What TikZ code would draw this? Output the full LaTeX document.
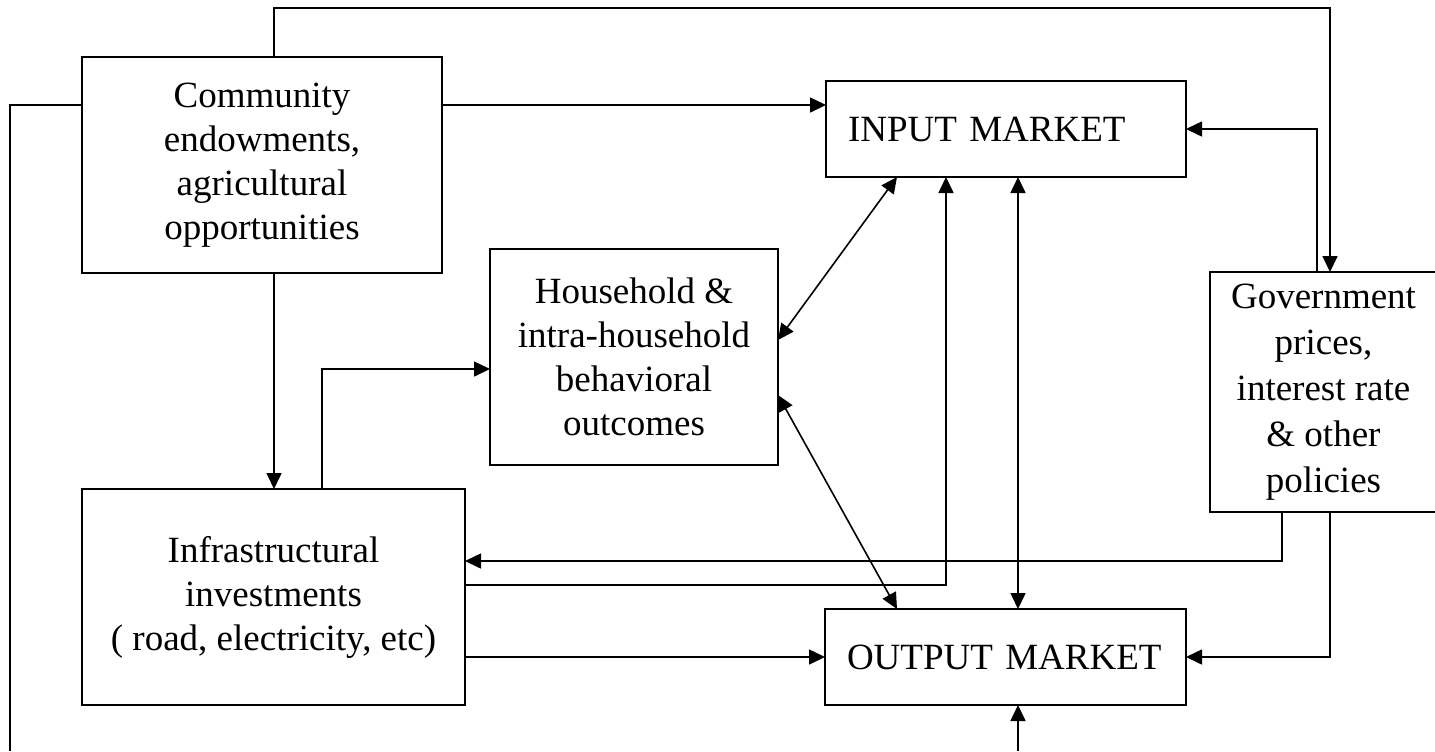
\documentclass[tikz,border=0pt]{standalone}
\usepackage{fontspec}
\setmainfont{Liberation Serif}
\usetikzlibrary{arrows.meta}

\begin{document}
\begin{tikzpicture}[x=0.5pt,y=-0.5pt]
\useasboundingbox (0,0) rectangle (1435,751);

\begin{scope}[every node/.style={rectangle,draw=black,fill=white,line width=0.8pt,inner sep=0pt,outer sep=0pt,align=center,font=\fontsize{18.5}{22}\selectfont}]
    \node (comm) at (262, 165) [minimum width=180pt,minimum height=108pt] {Community\\endowments,\\agricultural\\opportunities};

    \node (input) at (1006, 129) [text width=158pt,inner xsep=11pt,minimum height=48pt,align=left] {INPUT MARKET};
    \node (hh) at (634, 357) [minimum width=144pt,minimum height=108pt] {Household \&\\intra-household\\behavioral\\outcomes};

    \node (infra) at (273.5, 597) [minimum width=191.5pt,minimum height=108pt] {Infrastructural\\investments\\( road, electricity, etc)};
    \node (output) at (1005.5, 657) [text width=158.5pt,inner xsep=11pt,minimum height=48pt,align=left] {OUTPUT MARKET};

    \node (gov) at (1323.5, 392) [minimum width=113.5pt,minimum height=120pt,font=\fontsize{18.5}{23}\selectfont] {Government\\prices,\\ interest rate\\ \& other\\policies};
\end{scope}

\coordinate (leftend) at (10, 751);
\coordinate (bottomend) at (1018, 751);

\begin{scope}[>={Triangle[length=8pt,width=7.5pt]},line width=0.8pt]
    \draw [->] ([xshift=6pt]comm.north) -- ++(0,-49) -| ([xshift=3.25pt]gov.north);
    \draw ([yshift=30pt]comm.west) -| (leftend);
    \draw [->] ([yshift=30pt]comm.east) -- ([yshift=12pt]input.west);
    \draw [->] ([xshift=6pt]comm.south) -- ([xshift=0.25pt]infra.north);
    \draw [->] ([xshift=24.25pt]infra.north) |- ([yshift=-6pt]hh.west);

    \draw [<->] ([yshift=8.5pt]hh.east) -- ([xshift=-54.5pt]input.south);
    \draw [<->] ([yshift=-19pt]hh.east) -- ([xshift=-54.25pt]output.north);
    \draw [<->] ([xshift=6pt]input.south) -- ([xshift=6.25pt]output.north);

    \draw [->] ([yshift=6pt]infra.east) -| ([xshift=-30pt]input.south);
    \draw [->] ([xshift=-20.75pt]gov.south) |- ([yshift=18pt]infra.east);
    \draw [->] ([yshift=-30pt]infra.east) -- (output.west);
    \draw [->] ([xshift=3.25pt]gov.south) |- (output.east);
    \draw [->] ([xshift=-3.25pt]gov.north) |- (input.east);
    \draw [->] (bottomend) -- ([xshift=6.25pt]output.south);
\end{scope}
\end{tikzpicture}
\end{document}
